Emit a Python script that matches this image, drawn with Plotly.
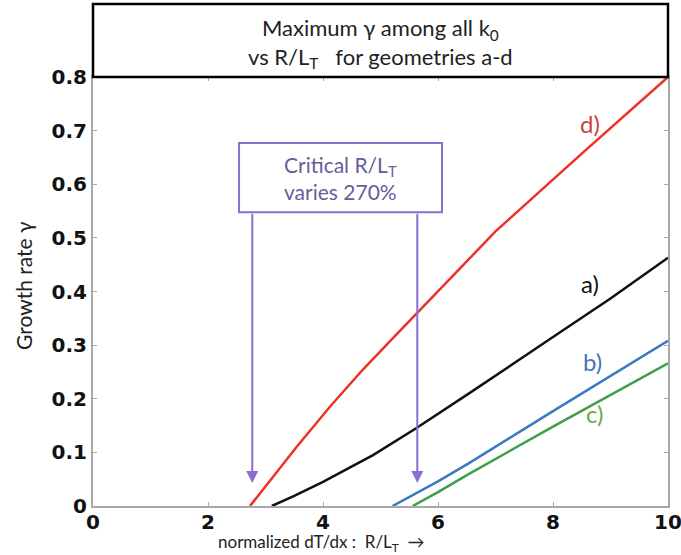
import plotly.graph_objects as go

# ---- data ----
x_d = [2.73, 3.0, 3.54, 4.12, 4.69, 5.27, 5.65, 6.0, 6.5, 7.0, 8.5, 10.0]
y_d = [0.0, 0.037, 0.110, 0.185, 0.254, 0.319, 0.361, 0.400, 0.456, 0.512, 0.657, 0.800]

x_a = [3.11, 3.5, 4.0, 4.5, 4.87, 5.62, 6.54, 8.0, 9.0, 10.0]
y_a = [0.0, 0.019, 0.045, 0.073, 0.095, 0.145, 0.210, 0.315, 0.387, 0.463]

x_b = [5.21, 5.6, 6.0, 6.54, 8.0, 10.0]
y_b = [0.0, 0.022, 0.046, 0.080, 0.177, 0.308]

x_c = [5.56, 6.0, 6.54, 8.0, 10.0]
y_c = [0.0, 0.026, 0.060, 0.148, 0.266]

critical_x = [2.77, 5.64]
x_ticks = [0, 2, 4, 6, 8, 10]
y_ticks = [0, 0.1, 0.2, 0.3, 0.4, 0.5, 0.6, 0.7, 0.8]
y_tick_text = ["0", "0.1", "0.2", "0.3", "0.4", "0.5", "0.6", "0.7", "0.8"]

curves = [
    ("d)", x_d, y_d, "#ee3124"),
    ("a)", x_a, y_a, "#111111"),
    ("b)", x_b, y_b, "#3d78c4"),
    ("c)", x_c, y_c, "#3f9e4a"),
]

fig = go.Figure()
for name, xs, ys, col in curves:
    fig.add_trace(go.Scatter(x=xs, y=ys, mode="lines", name=name,
                             line=dict(color=col, width=2.5),
                             showlegend=False, hoverinfo="skip"))

# curve labels
labels = [("d)", 8.64, 0.714, "#c9463a"), ("a)", 8.64, 0.415, "#111111"),
          ("b)", 8.68, 0.269, "#4a74b8"), ("c)", 8.73, 0.173, "#6aa84f")]
for t, lx, ly, col in labels:
    fig.add_annotation(x=lx, y=ly, text=t, showarrow=False,
                       font=dict(family="Lato", size=24, color=col))

# critical box
purple = "#8a6fd2"
fig.add_shape(type="rect", x0=2.54, x1=6.07, y0=0.548, y1=0.677,
              line=dict(color=purple, width=2), fillcolor="white")
fig.add_annotation(x=4.31, y=0.612, text="Critical R/L<sub>T</sub><br>varies 270%",
                   showarrow=False, yanchor="middle", xanchor="center",
                   font=dict(family="Lato", size=21, color="#6a5b9c"))
for cx in critical_x:
    fig.add_annotation(x=cx, y=0.043, ax=cx, ay=0.548, xref="x", yref="y",
                       axref="x", ayref="y", text="", showarrow=True,
                       arrowhead=2, arrowsize=1.2, arrowwidth=2, arrowcolor=purple)

# title box
fig.add_shape(type="rect", xref="paper", yref="paper", x0=0, x1=1, y0=1.0, y1=1.17,
              line=dict(color="black", width=2.5), fillcolor="white")
fig.add_annotation(xref="paper", yref="paper", x=0.5, y=1.079, yanchor="middle",
                   xanchor="center",
                   text="Maximum γ among all k<sub>0</sub><br>vs R/L<sub>T</sub>   for geometries a-d",
                   showarrow=False, font=dict(family="Lato", size=22, color="#222222"))

# axis titles
fig.add_annotation(xref="paper", yref="paper", x=0.398, y=-0.086, yanchor="middle",
                   xanchor="center", showarrow=False, borderpad=0,
                   text="normalized dT/dx :  R/L<sub>T</sub>  →",
                   font=dict(family="Lato", size=17, color="#222222"))
fig.add_annotation(xref="paper", yref="paper", x=-0.12, y=0.513, yanchor="middle",
                   xanchor="center", showarrow=False, textangle=-90,
                   text="Growth rate γ",
                   font=dict(family="Lato", size=21, color="#222222"))

axis_common = dict(showline=True, linecolor="#a8a8a8", linewidth=2, mirror="ticks",
                   ticks="inside", ticklen=4, tickcolor="#a8a8a8", showgrid=False,
                   zeroline=False, automargin=False, ticklabeloverflow="allow",
                   tickfont=dict(family="DejaVu Sans", size=20, color="#111111", weight="bold"))

fig.update_xaxes(range=[0, 10], tickvals=x_ticks, ticktext=[str(v) for v in x_ticks],
                 ticklabelstandoff=-3, **axis_common)
fig.update_yaxes(range=[0, 0.8], tickvals=y_ticks, ticktext=y_tick_text,
                 **axis_common)

fig.update_layout(width=681, height=555, margin=dict(l=93, r=13, t=77, b=49),
                  plot_bgcolor="white", paper_bgcolor="white", hovermode=False)

fig.write_html("out.html", config={"displayModeBar": False},
               post_script="document.body.style.margin='0';document.body.style.overflow='hidden';")
